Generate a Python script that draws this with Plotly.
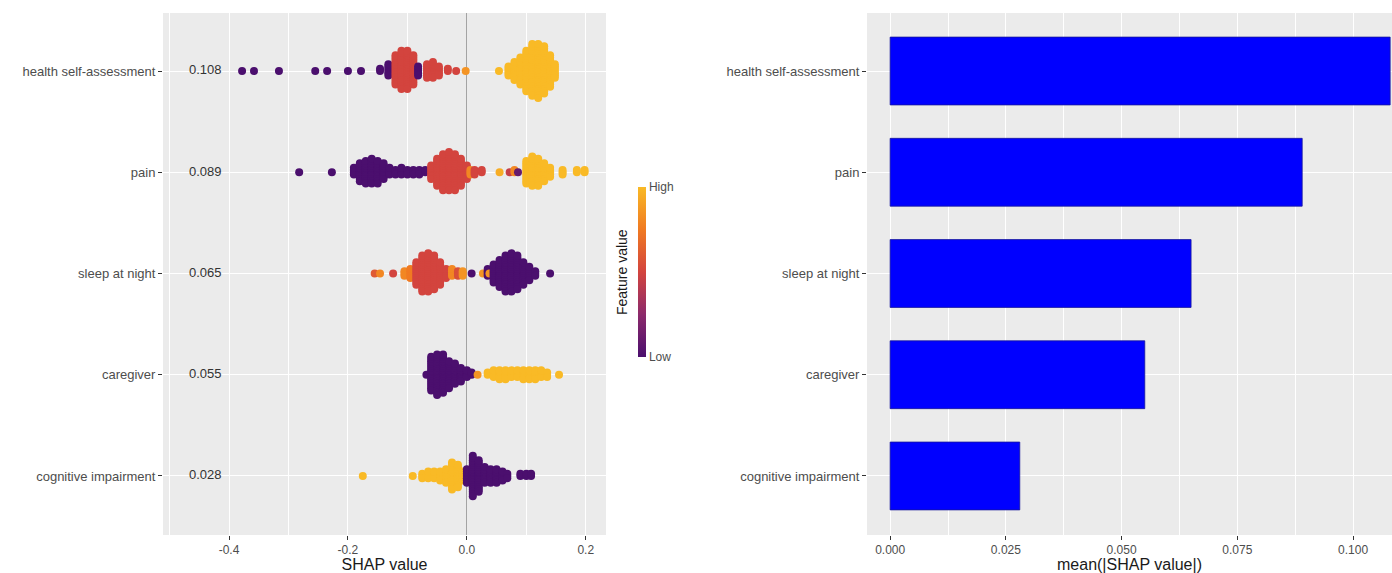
import plotly.graph_objects as go

# ---------------------------------------------------------------- data
features = ["health self-assessment", "pain", "sleep at night", "caregiver", "cognitive impairment"]
mean_abs_shap = [0.108, 0.089, 0.065, 0.055, 0.028]
row_pos = [5, 4, 3, 2, 1]

# SHAP value bins, number of observations in each bin, scaled feature value (0 = low, 1 = high)
health_shap = [-0.378, -0.358, -0.316, -0.255, -0.235, -0.200, -0.178, -0.146, -0.132,
               -0.120, -0.110, -0.100, -0.090, -0.082, -0.067, -0.057, -0.047, -0.032,
               -0.018, -0.002, 0.054, 0.070, 0.080, 0.090, 0.100, 0.110, 0.120, 0.130,
               0.140, 0.148]
health_n = [1, 1, 1, 1, 1, 1, 1, 2, 6,
            14, 18, 18, 14, 5, 7, 8, 5, 2,
            1, 1, 1, 5, 9, 13, 19, 24, 25, 22,
            15, 7]
health_feat = [0, 0, 0, 0, 0, 0, 0, 0, 0,
               0.5, 0.5, 0.5, 0.5, 0, 0.5, 0.5, 0.5, 0.5,
               0.5, 0.85, 1, 1, 1, 1, 1, 1, 1, 1,
               1, 1]

pain_shap = [-0.282, -0.227, -0.190, -0.180, -0.170, -0.160, -0.150, -0.140, -0.130,
             -0.120, -0.110, -0.100, -0.090, -0.080, -0.070, -0.060, -0.050, -0.040,
             -0.030, -0.020, -0.010, 0.000, 0.006, 0.013, 0.025, 0.055, 0.072, 0.080,
             0.086, 0.100, 0.110, 0.120, 0.130, 0.140, 0.161, 0.185, 0.198]
pain_n = [1, 1, 4, 9, 11, 12, 11, 8, 4,
          3, 4, 3, 3, 3, 2, 7, 13, 17,
          18, 17, 13, 7, 3, 3, 2, 1, 1, 2,
          1, 11, 14, 13, 9, 5, 3, 2, 2]
pain_feat = [0, 0, 0, 0, 0, 0, 0, 0, 0,
             0, 0, 0, 0, 0, 0, 0.5, 0.5, 0.5,
             0.5, 0.5, 0.5, 0.5, 0.8, 0.5, 0.5, 0.95, 0.45, 0.8,
             0.1, 1, 1, 1, 1, 1, 1, 1, 1]

sleep_shap = [-0.155, -0.146, -0.124, -0.105, -0.095, -0.085, -0.075, -0.065, -0.055,
              -0.045, -0.035, -0.025, -0.015, -0.007, 0.008, 0.027, 0.035, 0.038,
              0.045, 0.055, 0.065, 0.075, 0.085, 0.095, 0.105, 0.115, 0.140]
sleep_n = [1, 1, 1, 3, 5, 11, 17, 18, 16,
           11, 5, 4, 3, 3, 1, 1, 4, 1,
           9, 13, 17, 18, 16, 11, 7, 3, 1]
sleep_feat = [0.6, 0.8, 0.5, 0.8, 0.75, 0.5, 0.5, 0.5, 0.5,
              0.5, 0.5, 0.8, 0.55, 0.85, 0, 0.85, 0, 0.85,
              0, 0, 0, 0, 0, 0, 0, 0, 0]

caregiver_shap = [-0.068, -0.060, -0.050, -0.040, -0.030, -0.020, -0.010, 0.000, 0.008,
                  0.018, 0.035, 0.045, 0.055, 0.065, 0.075, 0.085, 0.095, 0.105,
                  0.115, 0.125, 0.135, 0.155]
caregiver_n = [1, 16, 19, 18, 13, 10, 7, 4, 2,
               1, 2, 4, 5, 5, 4, 4, 5, 5,
               5, 4, 3, 1]
caregiver_feat = [0, 0, 0, 0, 0, 0, 0, 0, 0,
                  0.85, 1, 1, 1, 1, 1, 1, 1, 1,
                  1, 1, 1, 1]

cognitive_shap = [-0.175, -0.091, -0.075, -0.065, -0.055, -0.045, -0.035, -0.025, -0.015,
                  -0.007, 0.000, 0.010, 0.020, 0.030, 0.040, 0.050, 0.060, 0.068,
                  0.090, 0.100, 0.108]
cognitive_n = [1, 1, 3, 4, 4, 5, 7, 13, 11,
               5, 7, 19, 15, 8, 7, 7, 5, 3,
               2, 2, 2]
cognitive_feat = [1, 1, 1, 1, 1, 1, 1, 1, 1,
                  1, 0, 0, 0, 0, 0, 0, 0, 0,
                  0, 0, 0]

rows = [
    (health_shap, health_n, health_feat),
    (pain_shap, pain_n, pain_feat),
    (sleep_shap, sleep_n, sleep_feat),
    (caregiver_shap, caregiver_n, caregiver_feat),
    (cognitive_shap, cognitive_n, cognitive_feat),
]

# ---------------------------------------------------------------- layout constants
W, H = 1392, 573
FONT = "Liberation Sans, Arial, Helvetica, sans-serif"
PANEL = "#EBEBEB"
TICK_COL = "#4D4D4D"

left_dom = [163 / W, 606 / W]
right_dom = [867 / W, 1.0]
y_dom = [1 - 535 / H, 1 - 13 / H]
y_range = [0.417, 5.573]
stack_step = 0.0222  # vertical spacing of stacked points (in row units)

# ---------------------------------------------------------------- beeswarm points
xs, ys, cs = [], [], []
for (shap, counts, feat), y0 in zip(rows, row_pos):
    for v, n, f in zip(shap, counts, feat):
        for k in range(n):
            # alternate points above / below the row centre line
            off = ((k + 1) // 2) * (1 if k % 2 == 1 else -1)
            xs.append(v)
            ys.append(y0 + off * stack_step)
            cs.append(f)

colorscale = [
    [0.0, "#4b0f6e"],
    [0.25, "#8c2a6b"],
    [0.5, "#d3443e"],
    [0.75, "#f07a22"],
    [1.0, "#f9ba26"],
]

fig = go.Figure()

fig.add_trace(go.Scatter(
    x=xs, y=ys, mode="markers", xaxis="x", yaxis="y",
    marker=dict(
        size=8, color=cs, cmin=0, cmax=1, colorscale=colorscale,
        line=dict(width=0), opacity=1,
        showscale=True,
        colorbar=dict(
            x=638 / W, xanchor="left", xpad=0,
            y=1 - 272 / H, yanchor="middle", ypad=0,
            len=170, lenmode="pixels", thickness=8,
            outlinewidth=0,
            tickvals=[0, 1], ticktext=["Low", "High"], ticks="",
            tickfont=dict(family=FONT, size=12, color=TICK_COL),
        ),
    ),
    hoverinfo="skip", showlegend=False,
))

# mean |SHAP| printed next to each feature
fig.add_trace(go.Scatter(
    x=[-0.44] * len(row_pos), y=row_pos, mode="text", xaxis="x", yaxis="y",
    text=[f"{v:.3f}" for v in mean_abs_shap],
    textposition="middle center",
    textfont=dict(family=FONT, size=13, color="#333333"),
    hoverinfo="skip", showlegend=False,
))

# importance bars
fig.add_trace(go.Bar(
    x=mean_abs_shap, y=row_pos, orientation="h", width=0.67,
    xaxis="x2", yaxis="y2",
    marker=dict(color="#0000FF", line=dict(color="#16169a", width=0.8)),
    hoverinfo="skip", showlegend=False,
))

axis_common = dict(
    showline=False, ticks="outside", ticklen=4, tickwidth=1, tickcolor="#333333",
    gridcolor="white", gridwidth=1.2, automargin=False,
)
x_tickfont = dict(family=FONT, size=12, color=TICK_COL)
y_tickfont = dict(family=FONT, size=13, color=TICK_COL)
title_font = dict(family=FONT, size=16, color="#1a1a1a")

fig.update_layout(
    width=W, height=H,
    margin=dict(l=0, r=0, t=0, b=0),
    paper_bgcolor="white", plot_bgcolor=PANEL,
    font=dict(family=FONT),
    hovermode=False,
    xaxis=dict(
        domain=left_dom, range=[-0.511, 0.234], anchor="y",
        tickvals=[-0.4, -0.2, 0.0, 0.2], ticktext=["-0.4", "-0.2", "0.0", "0.2"],
        tickfont=x_tickfont,
        zeroline=True, zerolinecolor="#a3a3a3", zerolinewidth=1.2,
        minor=dict(tickvals=[-0.5, -0.3, -0.1, 0.1], showgrid=True,
                   gridcolor="white", gridwidth=0.6, ticks=""),
        title=dict(text="SHAP value", font=title_font, standoff=1),
        **axis_common,
    ),
    yaxis=dict(
        domain=y_dom, range=y_range, anchor="x",
        tickvals=row_pos, ticktext=features, zeroline=False,
        tickfont=y_tickfont,
        **axis_common,
    ),
    xaxis2=dict(
        domain=right_dom, range=[-0.005, 0.1084], anchor="y2",
        tickvals=[0, 0.025, 0.05, 0.075, 0.1],
        ticktext=["0.000", "0.025", "0.050", "0.075", "0.100"],
        tickfont=x_tickfont,
        zeroline=False,
        minor=dict(tickvals=[0.0125, 0.0375, 0.0625, 0.0875], showgrid=True,
                   gridcolor="white", gridwidth=0.6, ticks=""),
        title=dict(text="mean(|SHAP value|)", font=title_font, standoff=1),
        **axis_common,
    ),
    yaxis2=dict(
        domain=y_dom, range=y_range, anchor="x2",
        tickvals=row_pos, ticktext=features, zeroline=False,
        tickfont=y_tickfont,
        **axis_common,
    ),
    annotations=[dict(
        text="Feature value", textangle=-90,
        x=622 / W, y=1 - 272 / H, xref="paper", yref="paper",
        xanchor="center", yanchor="middle", showarrow=False,
        font=dict(family=FONT, size=14, color="#1a1a1a"),
    )],
)

fig.write_html("out.html")
